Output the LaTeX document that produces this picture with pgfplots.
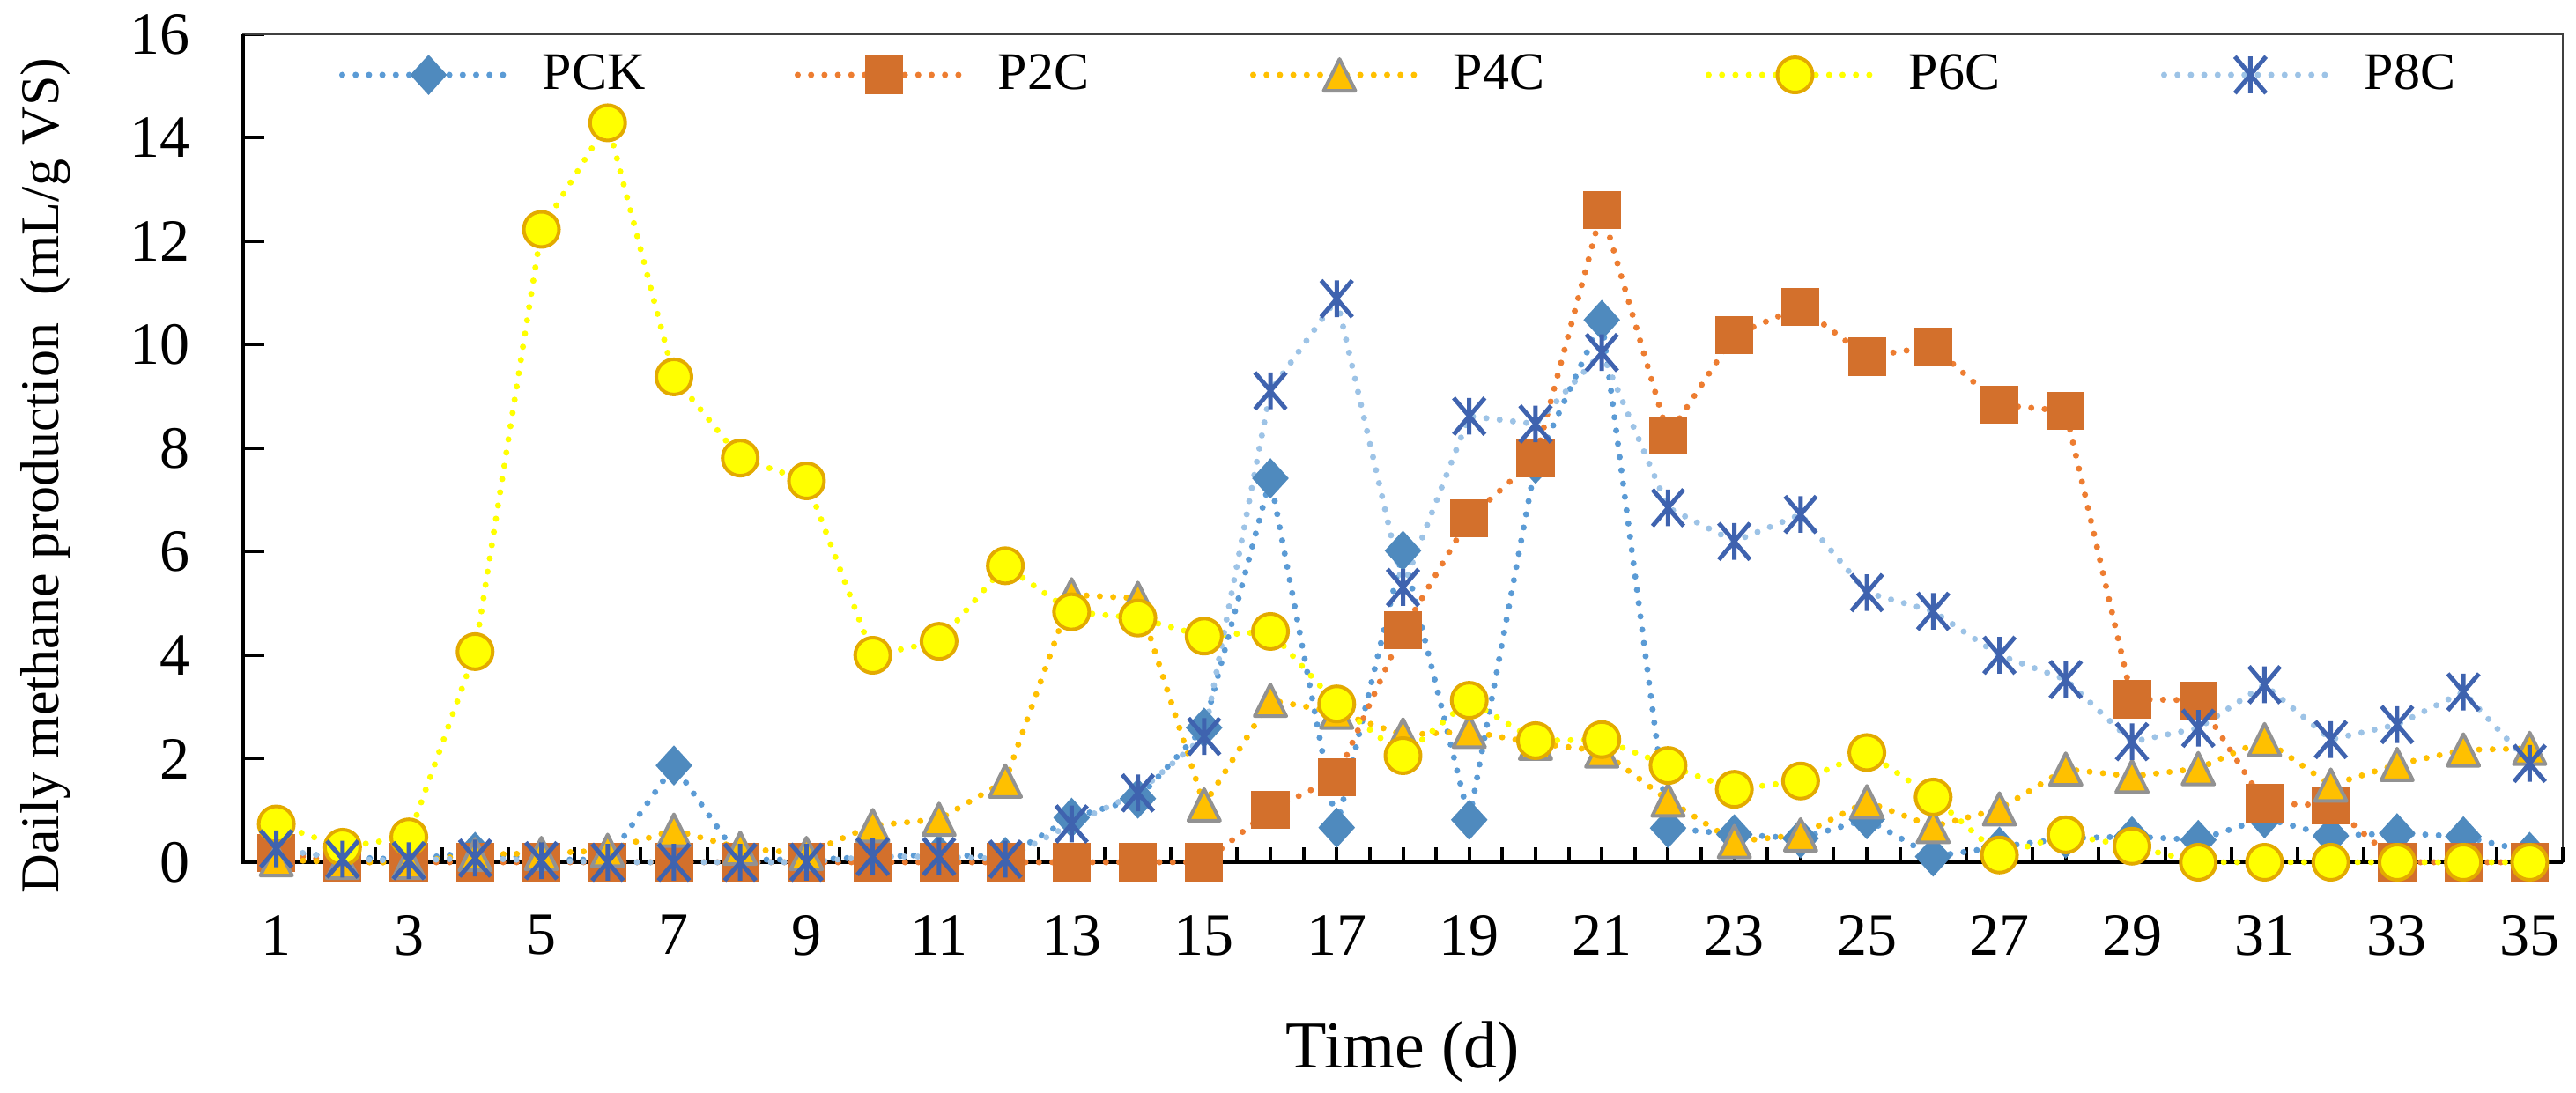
\documentclass[border=0pt]{standalone}
\usepackage{fontspec}
\setmainfont{Liberation Serif}
\usepackage{pgfplots}
\usepackage{pgfplotstable}
\pgfplotsset{compat=1.18}

\definecolor{ckline}{HTML}{5B9BD5}
\definecolor{ckmark}{HTML}{4F8ABE}
\definecolor{ctwoline}{HTML}{ED7D31}
\definecolor{ctwomark}{HTML}{D3702C}
\definecolor{cfour}{HTML}{FFC000}
\definecolor{cfouredge}{HTML}{929292}
\definecolor{csix}{HTML}{FFFF00}
\definecolor{csixedge}{HTML}{E3AA00}
\definecolor{ceightline}{HTML}{9DC3E6}
\definecolor{ceightmark}{HTML}{3F63AF}
\definecolor{boxgray}{HTML}{404040}

\pgfdeclareplotmark{exdiamond}{%
  \pgfpathmoveto{\pgfqpoint{0pt}{1.1\pgfplotmarksize}}%
  \pgfpathlineto{\pgfqpoint{\pgfplotmarksize}{0pt}}%
  \pgfpathlineto{\pgfqpoint{0pt}{-1.1\pgfplotmarksize}}%
  \pgfpathlineto{\pgfqpoint{-\pgfplotmarksize}{0pt}}%
  \pgfpathclose\pgfusepathqfill}
\pgfdeclareplotmark{exsquare}{%
  \pgfpathrectangle{\pgfqpoint{-\pgfplotmarksize}{-\pgfplotmarksize}}{\pgfqpoint{2\pgfplotmarksize}{2\pgfplotmarksize}}%
  \pgfusepathqfill}
\pgfdeclareplotmark{excircle}{%
  \pgfpathcircle{\pgfpointorigin}{\pgfplotmarksize}%
  \pgfusepathqfillstroke}
\pgfdeclareplotmark{extriangle}{%
  \pgfpathmoveto{\pgfqpoint{0pt}{\pgfplotmarksize}}%
  \pgfpathlineto{\pgfqpoint{\pgfplotmarksize}{-\pgfplotmarksize}}%
  \pgfpathlineto{\pgfqpoint{-\pgfplotmarksize}{-\pgfplotmarksize}}%
  \pgfpathclose\pgfusepathqfillstroke}
\pgfdeclareplotmark{exstar}{%
  \pgfpathmoveto{\pgfqpoint{0pt}{-\pgfplotmarksize}}%
  \pgfpathlineto{\pgfqpoint{0pt}{\pgfplotmarksize}}%
  \pgfpathmoveto{\pgfqpoint{-0.85\pgfplotmarksize}{-\pgfplotmarksize}}%
  \pgfpathlineto{\pgfqpoint{0.85\pgfplotmarksize}{\pgfplotmarksize}}%
  \pgfpathmoveto{\pgfqpoint{-0.85\pgfplotmarksize}{\pgfplotmarksize}}%
  \pgfpathlineto{\pgfqpoint{0.85\pgfplotmarksize}{-\pgfplotmarksize}}%
  \pgfusepathqstroke}

\pgfplotstableread{
day PCK P2C P4C P6C P8C
1 0.20 0.18 0.05 0.74 0.26
2 0.10 0 0 0.29 0.06
3 0.05 0 0 0.49 0.03
4 0.20 0 0.15 4.07 0.08
5 0.05 0 0.17 12.23 0.03
6 0.05 0 0.23 14.29 0
7 1.87 0 0.62 9.38 0
8 0.05 0 0.27 7.81 0
9 0.05 0 0.17 7.37 0
10 0.10 0 0.71 4.00 0.11
11 0.15 0 0.83 4.27 0.11
12 0.10 0 1.57 5.73 0.06
13 0.86 0 5.17 4.84 0.74
14 1.23 0 5.10 4.72 1.34
15 2.60 0 1.11 4.37 2.43
16 7.42 1.01 3.13 4.46 9.11
17 0.67 1.64 2.90 3.06 10.89
18 6.02 4.48 2.46 2.06 5.31
19 0.82 6.65 2.53 3.13 8.62
20 7.70 7.80 2.30 2.35 8.47
21 10.48 12.61 2.15 2.37 9.85
22 0.66 8.24 1.20 1.87 6.85
23 0.54 10.19 0.40 1.41 6.20
24 0.46 10.73 0.53 1.57 6.72
25 0.83 9.77 1.17 2.12 5.21
26 0.11 9.97 0.69 1.26 4.85
27 0.30 8.84 1.03 0.14 4.00
28 0.46 8.72 1.80 0.53 3.53
29 0.50 3.15 1.66 0.31 2.33
30 0.43 3.13 1.81 0 2.59
31 0.85 1.14 2.37 0 3.43
32 0.51 1.10 1.49 0 2.37
33 0.56 0 1.89 0 2.66
34 0.50 0 2.17 0 3.29
35 0.20 0 2.20 0 1.91
}\datatable

\begin{document}
\begin{tikzpicture}
\useasboundingbox (-69pt,-65.5pt) rectangle (662pt,244.75pt);
\begin{axis}[
  scale only axis, width=658.25pt, height=235pt,
  xmin=0.5, xmax=35.5, ymin=0, ymax=16,
  clip=false,
  axis line style={draw=boxgray, line width=0.7pt},
  tick align=inside, xtick pos=lower, ytick pos=left,
  xtick={1,...,35},
  xticklabels={1,,3,,5,,7,,9,,11,,13,,15,,17,,19,,21,,23,,25,,27,,29,,31,,33,,35},
  xtick style={/pgfplots/major tick length=4.25pt, line width=1pt, black},
  extra x ticks={0.5,1.5,...,35.5},
  extra x tick labels={},
  extra x tick style={/pgfplots/major tick length=5.75pt, line width=1pt, black},
  ytick={0,2,...,16},
  ytick style={/pgfplots/major tick length=6pt, line width=1pt, black},
  minor tick num=0,
  /pgf/number format/assume math mode=true,
  tick label style={font=\fontsize{17pt}{20pt}\selectfont},
  xticklabel style={yshift=-11.5pt},
  yticklabel style={xshift=-11.5pt},
  xlabel={Time (d)},
  ylabel={Daily methane production~ (mL/g VS)},
  xlabel style={at={(axis description cs:0.5,-0.2479)}, anchor=base, font=\fontsize{19pt}{22pt}\selectfont},
  ylabel style={at={(axis description cs:-0.0794,0.467)}, anchor=base, font=\fontsize{15.5pt}{18pt}\selectfont},
  legend image code/.code={\draw[mark repeat=2,mark phase=2] plot coordinates {(0pt,0pt) (24.5pt,0pt) (49pt,0pt)};},
  legend style={draw=none, fill=none, at={(axis description cs:0.0414,0.951)}, anchor=west,
    inner sep=0pt, outer sep=0pt, nodes={inner sep=0pt},
    font=\fontsize{15pt}{18pt}\selectfont,
    /tikz/every odd column/.append style={column sep=7pt}},
  legend columns=5,
  legend cell align=left,
  every axis plot/.append style={line width=1.75pt, dash pattern=on 0pt off 3.8pt, line cap=round, line join=round},
]
\draw[black, line width=1.15pt] (axis cs:0.5,16) -- (axis cs:0.5,0) -- (axis cs:35.5,0);

\addplot[ckline, mark=exdiamond, mark size=5.2pt, mark options={solid, fill=ckmark, draw=none}]
  table[x=day, y=PCK]{\datatable};
\addlegendentry{\makebox[71.5pt][l]{PCK}}
\addplot[ctwoline, mark=exsquare, mark size=5.4pt, mark options={solid, fill=ctwomark, draw=none}]
  table[x=day, y=P2C]{\datatable};
\addlegendentry{\makebox[71.5pt][l]{P2C}}
\addplot[cfour, mark=extriangle, mark size=4.5pt, mark options={solid, fill=cfour, draw=cfouredge, line width=1pt}]
  table[x=day, y=P4C]{\datatable};
\addlegendentry{\makebox[71.5pt][l]{P4C}}
\addplot[csix, mark=excircle, mark size=5pt, mark options={solid, fill=csix, draw=csixedge, line width=1pt}]
  table[x=day, y=P6C]{\datatable};
\addlegendentry{\makebox[71.5pt][l]{P6C}}
\addplot[ceightline, mark=exstar, mark size=5.2pt, mark options={solid, draw=ceightmark, line width=1.25pt, line cap=butt}]
  table[x=day, y=P8C]{\datatable};
\addlegendentry{\makebox[71.5pt][l]{P8C}}
\end{axis}
\end{tikzpicture}
\end{document}
